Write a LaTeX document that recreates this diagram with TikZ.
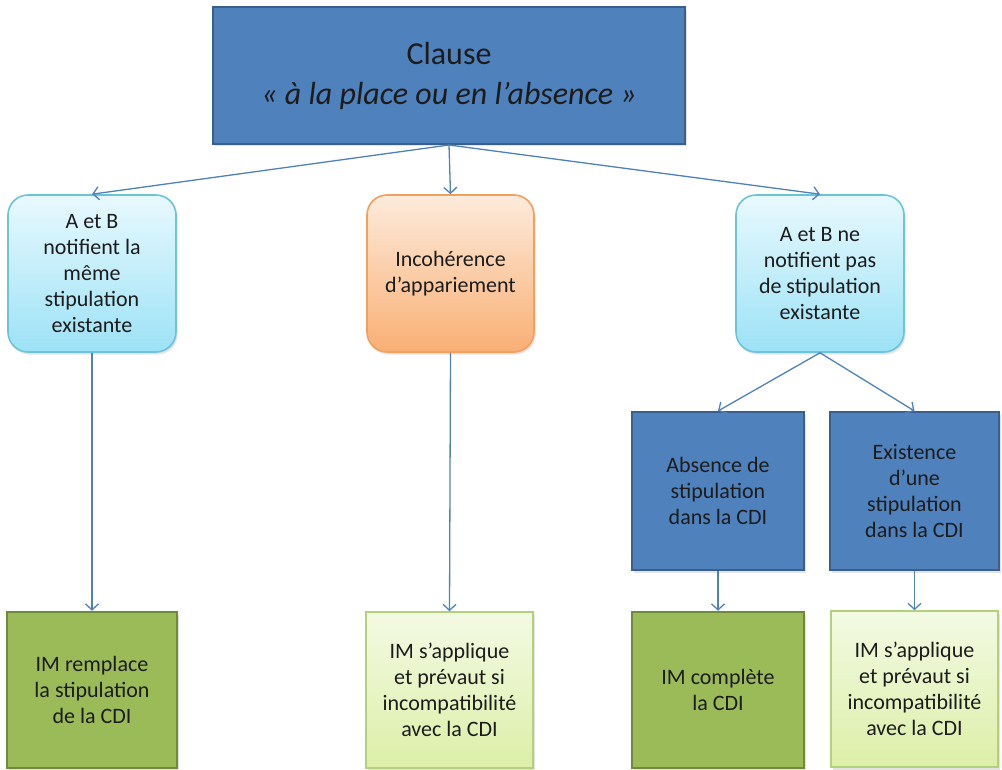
\documentclass[tikz,border=0pt]{standalone}
\usepackage{fontspec}
\setmainfont{Carlito}
\usetikzlibrary{arrows.meta,shadows}

\definecolor{darkblue}{HTML}{4F81BD}
\definecolor{darkblueline}{HTML}{3A5F8C}
\definecolor{cyantop}{HTML}{E8F9FE}
\definecolor{cyanbot}{HTML}{9CE2F6}
\definecolor{cyanline}{HTML}{6DC3DA}
\definecolor{orangetop}{HTML}{FDEBDC}
\definecolor{orangebot}{HTML}{F9AF74}
\definecolor{orangeline}{HTML}{F2A05E}
\definecolor{olive}{HTML}{9BBB59}
\definecolor{oliveline}{HTML}{6F8A3C}
\definecolor{limetop}{HTML}{F3FAE3}
\definecolor{limebot}{HTML}{DCEFA8}
\definecolor{limeline}{HTML}{B3D07A}
\definecolor{txt}{HTML}{1C1C1C}

\begin{document}
\begin{tikzpicture}[x=1pt,y=-1pt,
  base/.style={align=center, text=txt, inner sep=0pt,
    font=\fontsize{22}{26}\selectfont,
    drop shadow={opacity=0.22, shadow xshift=1.5pt, shadow yshift=-2.5pt}},
  headbox/.style={base, rectangle, fill=darkblue, draw=darkblueline, line width=2pt,
    font=\fontsize{32}{40}\selectfont},
  casebox/.style={base, rectangle, rounded corners=20pt, line width=1.6pt,
    draw=cyanline, top color=cyantop, bottom color=cyanbot},
  warnbox/.style={base, rectangle, rounded corners=20pt, line width=1.6pt,
    draw=orangeline, top color=orangetop, bottom color=orangebot},
  subbox/.style={base, rectangle, fill=darkblue, draw=darkblueline, line width=2pt},
  resultbox/.style={base, rectangle, fill=olive, draw=oliveline, line width=2.5pt},
  applybox/.style={base, rectangle, line width=1.6pt,
    draw=limeline, top color=limetop, bottom color=limebot},
  link/.style={draw=darkblue, line width=1.3pt,
    -{Straight Barb[length=6pt,width=13pt,line width=1.3pt]}}
]
\useasboundingbox (0,0) rectangle (1002,770);

% heading
\node[headbox, minimum width=472pt, minimum height=137pt] (clause) at (449,75.5)
  {Clause\\\textit{« à la place ou en l’absence »}};

% second row
\node[casebox, minimum width=168pt, minimum height=157pt] (same) at (92,273.5)
  {A et B\\notifient la\\même\\stipulation\\existante};
\node[warnbox, minimum width=167pt, minimum height=157pt] (mismatch) at (450.5,273.5)
  {Incohérence\\d’appariement};
\node[casebox, minimum width=168pt, minimum height=157pt] (none) at (820,273.5)
  {A et B ne\\notifient pas\\de stipulation\\existante};

% third row (right branch)
\node[subbox, minimum width=172pt, minimum height=158pt] (absent) at (718,491)
  {Absence de\\stipulation\\dans la CDI};
\node[subbox, minimum width=169pt, minimum height=158pt] (exists) at (914.5,491)
  {Existence\\d’une\\stipulation\\dans la CDI};

% outcomes
\node[resultbox, minimum width=170pt, minimum height=156pt] (replace) at (92,690)
  {IM remplace\\la stipulation\\de la CDI};
\node[applybox, minimum width=167pt, minimum height=156pt] (apply1) at (449.5,690)
  {IM s’applique\\et prévaut si\\incompatibilité\\avec la CDI};
\node[resultbox, minimum width=172pt, minimum height=156pt] (complete) at (718,690)
  {IM complète\\la CDI};
\node[applybox, minimum width=167pt, minimum height=156pt] (apply2) at (914.5,689)
  {IM s’applique\\et prévaut si\\incompatibilité\\avec la CDI};

% connectors
\draw[link] (clause.south) -- (same.north);
\draw[link] (clause.south) -- (mismatch.north);
\draw[link] (clause.south) -- (none.north);
\draw[link] (same.south) -- (replace.north);
\draw[link] (mismatch.south) -- (apply1.north);
\draw[link] (none.south) -- (absent.north);
\draw[link] (none.south) -- (exists.north);
\draw[link] (absent.south) -- (complete.north);
\draw[link] (exists.south) -- (apply2.north);
\end{tikzpicture}
\end{document}
